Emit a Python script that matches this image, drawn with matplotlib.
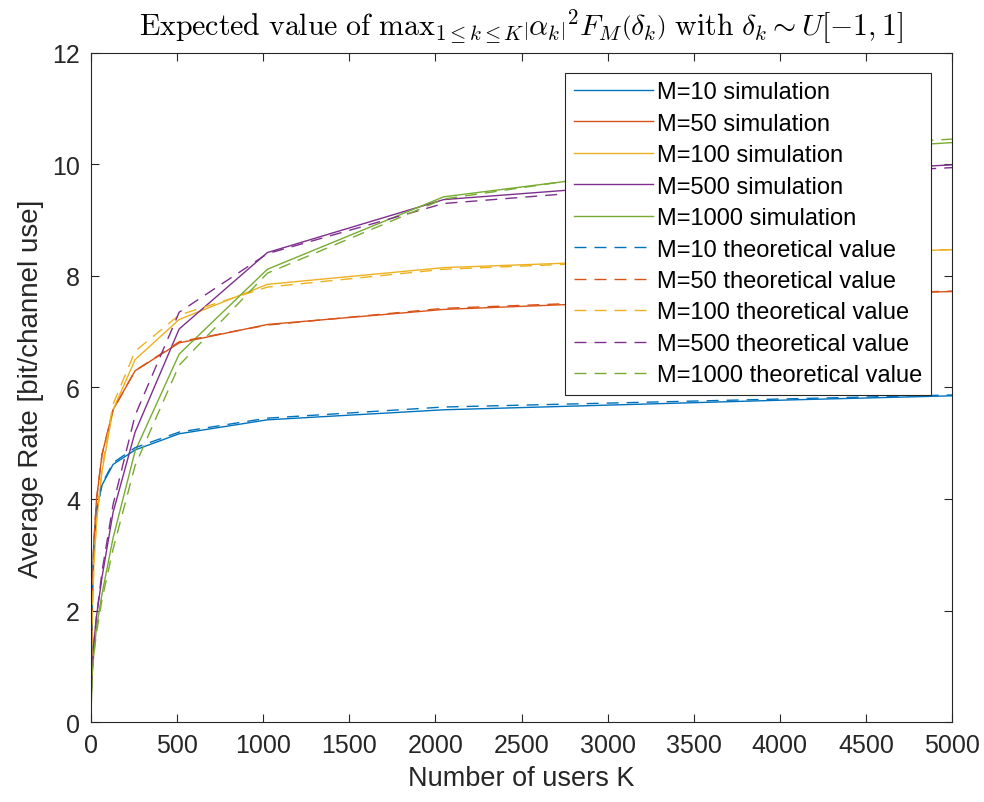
import numpy as np
import matplotlib
matplotlib.use("Agg")
import matplotlib.pyplot as plt

plt.rcParams['font.family'] = ['Liberation Sans', 'DejaVu Sans']
plt.rcParams['mathtext.fontset'] = 'cm'

# number of users (powers of two, axis is cut at 5000)
K = [1, 2, 4, 8, 16, 32, 64, 128, 256, 512, 1024, 2048, 4096, 8192]

# simulated average rate
sim_M10 = [0.45, 0.9, 1.6, 2.4, 3.15, 3.8, 4.25, 4.62, 4.88, 5.17, 5.42, 5.6, 5.78, 6.1]
sim_M50 = [0.4, 0.8, 1.5, 2.3, 3.2, 4.0, 4.8, 5.6, 6.3, 6.8, 7.13, 7.4, 7.65, 7.97]
sim_M100 = [0.35, 0.7, 1.3, 2.0, 2.8, 3.6, 4.5, 5.6, 6.5, 7.22, 7.85, 8.15, 8.38, 8.8]
sim_M500 = [0.25, 0.45, 0.7, 1.0, 1.4, 1.9, 2.6, 3.76, 5.2, 7.05, 8.42, 9.37, 9.85, 10.5]
sim_M1000 = [0.2, 0.4, 0.6, 0.9, 1.2, 1.7, 2.3, 3.3, 4.86, 6.6, 8.12, 9.42, 10.22, 11.0]

# theoretical average rate
th_M10 = [0.45, 0.9, 1.6, 2.4, 3.15, 3.8, 4.27, 4.65, 4.92, 5.2, 5.45, 5.65, 5.8, 6.1]
th_M50 = [0.4, 0.8, 1.5, 2.3, 3.2, 4.0, 4.8, 5.6, 6.3, 6.82, 7.12, 7.42, 7.66, 7.97]
th_M100 = [0.35, 0.7, 1.3, 2.0, 2.8, 3.6, 4.55, 5.7, 6.65, 7.3, 7.8, 8.12, 8.38, 8.8]
th_M500 = [0.25, 0.45, 0.7, 1.0, 1.4, 1.9, 2.7, 3.9, 5.5, 7.35, 8.4, 9.3, 9.8, 10.45]
th_M1000 = [0.2, 0.4, 0.6, 0.9, 1.2, 1.6, 2.2, 3.1, 4.6, 6.4, 8.05, 9.38, 10.3, 11.0]

M_values = [10, 50, 100, 500, 1000]
sims = [sim_M10, sim_M50, sim_M100, sim_M500, sim_M1000]
theos = [th_M10, th_M50, th_M100, th_M500, th_M1000]
colors = ['#0072BD', '#D95319', '#EDB120', '#7E2F8E', '#77AC30']

fig = plt.figure(figsize=(9.84, 8.03), dpi=100)
ax = fig.add_axes([0.0925, 0.0996, 0.875, 0.8332])

for m, y, c in zip(M_values, sims, colors):
    ax.plot(K, y, color=c, lw=1.0, label='M=%d simulation' % m)
lw = 1.0
for m, y, c in zip(M_values, theos, colors):
    ax.plot(K, y, color=c, lw=lw, linestyle=(0, (8.6 / lw, 5.8 / lw)),
            label='M=%d theoretical value' % m)

ax.set_xlim(0, 5000)
ax.set_ylim(0, 12)
ax.set_xticks(np.arange(0, 5001, 500))
ax.set_yticks(np.arange(0, 13, 2))
ax.tick_params(direction='in', top=True, right=True, length=6, width=0.8,
               labelsize=18, colors='#262626', pad=8)
for s in ax.spines.values():
    s.set_color('#262626')
    s.set_linewidth(0.8)

ax.set_xlabel('Number of users K', fontsize=19.5, color='#262626', labelpad=6)
ax.set_ylabel('Average Rate [bit/channel use]', fontsize=20, color='#262626', labelpad=6)
ax.set_title(r'$\mathrm{Expected\ value\ of\ }\mathrm{max}_{1\leq k\leq K}\left|\alpha_k\right|^2F_M\left(\delta_k\right)'
             r'\mathrm{\ with\ }\delta_k\sim U[-1,1]$', fontsize=21.5, pad=13)

leg = ax.legend(loc='upper right', bbox_to_anchor=(0.9756, 0.970), fontsize=17,
                handlelength=3.35, handletextpad=0.2, labelspacing=0.4,
                borderpad=0.35, borderaxespad=0, fancybox=False, framealpha=1)
leg.get_frame().set_edgecolor('#262626')
leg.get_frame().set_linewidth(0.8)

fig.savefig('out.png', dpi=100)
